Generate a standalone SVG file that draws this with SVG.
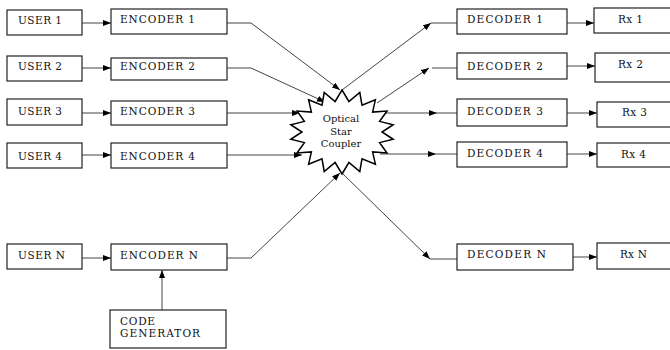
<svg xmlns="http://www.w3.org/2000/svg" width="670" height="350" viewBox="0 0 670 350">
<style>
.box{fill:#fff;stroke:#222;stroke-width:1.2}
.t{font-family:"DejaVu Serif","Liberation Serif",serif;font-size:10.5px;fill:#111}
.s{font-family:"DejaVu Serif","Liberation Serif",serif;font-size:10px;fill:#111;text-anchor:middle}
.ln{fill:none;stroke:#444;stroke-width:1}
.ar{fill:none;stroke:#444;stroke-width:1;marker-end:url(#ah)}
</style>
<defs>
<marker id="ah" markerUnits="userSpaceOnUse" markerWidth="9" markerHeight="7" refX="8" refY="3" orient="auto">
<path d="M0,0 L8,3 L0,6 z" fill="#000"/>
</marker>
</defs>
<rect width="670" height="350" fill="#fff"/>
<g id="connectors">
<path class="ar" d="M82,23 H111"/>
<path class="ar" d="M82,68 H111"/>
<path class="ar" d="M82,113 H111"/>
<path class="ar" d="M82,155 H111"/>
<path class="ar" d="M82,258 H111"/>
<path class="ar" d="M162,310 V270"/>
<path class="ar" d="M227,23 H251 L340,90"/>
<path class="ar" d="M227,68 H251 L325,102"/>
<path class="ar" d="M227,113 H300"/>
<path class="ar" d="M227,155 H302"/>
<path class="ar" d="M227,258 H251 L340,173"/>
<path class="ar" d="M342,90 L431,23"/>
<path class="ln" d="M431,23 H457"/>
<path class="ar" d="M377,103 L429,68"/>
<path class="ln" d="M432,68 H457"/>
<path class="ar" d="M375,113 L437,113"/>
<path class="ln" d="M437,113 H457"/>
<path class="ar" d="M380,154 L436,154"/>
<path class="ln" d="M436,154 H457"/>
<path class="ar" d="M342,173 L430,259"/>
<path class="ln" d="M430,259 H457"/>
<path class="ar" d="M567,23 H594"/>
<path class="ar" d="M567,66 H595"/>
<path class="ar" d="M567,113 H597"/>
<path class="ar" d="M567,154 H597"/>
<path class="ar" d="M573,257 H597"/>
</g>
<g id="user1"><rect class="box" x="7" y="10" width="75" height="25"/><text class="t" x="18" y="24" textLength="44" lengthAdjust="spacing">USER 1</text></g>
<g id="user2"><rect class="box" x="7" y="56" width="75" height="25"/><text class="t" x="18" y="70" textLength="44" lengthAdjust="spacing">USER 2</text></g>
<g id="user3"><rect class="box" x="7" y="99" width="75" height="26"/><text class="t" x="18" y="115" textLength="44" lengthAdjust="spacing">USER 3</text></g>
<g id="user4"><rect class="box" x="7" y="143" width="75" height="25"/><text class="t" x="18" y="160" textLength="44" lengthAdjust="spacing">USER 4</text></g>
<g id="userN"><rect class="box" x="7" y="244" width="75" height="25"/><text class="t" x="18" y="259" textLength="47" lengthAdjust="spacing">USER N</text></g>
<g id="encoder1"><rect class="box" x="111" y="9" width="116" height="25"/><text class="t" x="120" y="23" textLength="75" lengthAdjust="spacing">ENCODER 1</text></g>
<g id="encoder2"><rect class="box" x="111" y="58" width="116" height="22"/><text class="t" x="120" y="70" textLength="75" lengthAdjust="spacing">ENCODER 2</text></g>
<g id="encoder3"><rect class="box" x="111" y="101" width="116" height="24"/><text class="t" x="120" y="115" textLength="75" lengthAdjust="spacing">ENCODER 3</text></g>
<g id="encoder4"><rect class="box" x="111" y="143" width="116" height="25"/><text class="t" x="120" y="160" textLength="75" lengthAdjust="spacing">ENCODER 4</text></g>
<g id="encoderN"><rect class="box" x="111" y="244" width="116" height="26"/><text class="t" x="120" y="259" textLength="78" lengthAdjust="spacing">ENCODER N</text></g>
<g id="codegen"><rect class="box" x="110" y="310" width="116" height="38"/><text class="t" x="120" y="325" textLength="35" lengthAdjust="spacing">CODE</text><text class="t" x="120" y="337" textLength="80" lengthAdjust="spacing">GENERATOR</text></g>
<g id="coupler">
<polygon points="342,90 348.9,101.5 359.8,92.5 362,105.2 375.4,99.8 372.6,112.1 387,111 379.6,121.4 393.2,124.7 382,132 393.2,139.3 379.6,142.6 387,153 372.6,151.9 375.4,164.2 362,158.8 359.8,171.5 348.9,162.5 342,174 335.1,162.5 324.2,171.5 322,158.8 308.6,164.2 311.4,151.9 297,153 304.4,142.6 290.8,139.3 302,132 290.8,124.7 304.4,121.4 297,111 311.4,112.1 308.6,99.8 322,105.2 324.2,92.5 335.1,101.5" fill="#fff" stroke="#000" stroke-width="1.5"/>
<text class="s" x="341" y="122">Optical</text>
<text class="s" x="341" y="134.5">Star</text>
<text class="s" x="341" y="147">Coupler</text>
</g>
<g id="decoder1"><rect class="box" x="457" y="9" width="110" height="25"/><text class="t" x="467" y="23" textLength="76" lengthAdjust="spacing">DECODER 1</text></g>
<g id="decoder2"><rect class="box" x="457" y="53" width="110" height="26"/><text class="t" x="467" y="70" textLength="76" lengthAdjust="spacing">DECODER 2</text></g>
<g id="decoder3"><rect class="box" x="457" y="99" width="110" height="27"/><text class="t" x="467" y="115" textLength="76" lengthAdjust="spacing">DECODER 3</text></g>
<g id="decoder4"><rect class="box" x="457" y="142" width="110" height="25"/><text class="t" x="467" y="157" textLength="76" lengthAdjust="spacing">DECODER 4</text></g>
<g id="decoderN"><rect class="box" x="457" y="244" width="116" height="26"/><text class="t" x="467" y="258" textLength="79" lengthAdjust="spacing">DECODER N</text></g>
<g id="rx1"><rect class="box" x="594" y="8" width="80" height="25"/><text class="t" x="618" y="23" textLength="25" lengthAdjust="spacing">Rx 1</text></g>
<g id="rx2"><rect class="box" x="595" y="53" width="80" height="29"/><text class="t" x="618" y="68" textLength="25" lengthAdjust="spacing">Rx 2</text></g>
<g id="rx3"><rect class="box" x="597" y="102" width="80" height="25"/><text class="t" x="622" y="116" textLength="25" lengthAdjust="spacing">Rx 3</text></g>
<g id="rx4"><rect class="box" x="597" y="143" width="80" height="24"/><text class="t" x="621" y="158" textLength="25" lengthAdjust="spacing">Rx 4</text></g>
<g id="rxN"><rect class="box" x="597" y="243" width="80" height="26"/><text class="t" x="620" y="258" textLength="27" lengthAdjust="spacing">Rx N</text></g>
</svg>
